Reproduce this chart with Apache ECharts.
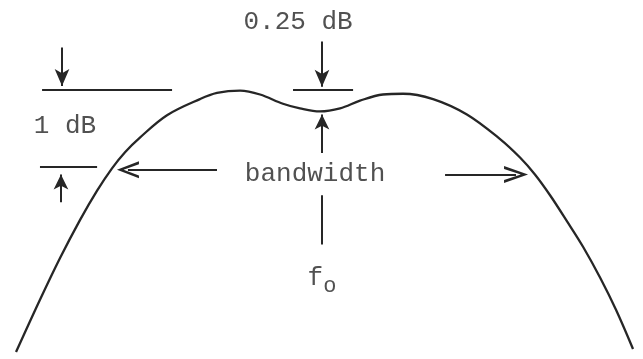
<!DOCTYPE html>
<html>
<head>
<meta charset="utf-8">
<script src="https://cdn.jsdelivr.net/npm/echarts@6/dist/echarts.min.js"></script>
<style>
  html, body { margin: 0; padding: 0; background: #fff; }
  #chart { width: 643px; height: 359px; }
</style>
</head>
<body>
<div id="chart"></div>
<script>
// relative frequency (f0 = 0, band edges near +-1)
const freq = [-1.457, -1.343, -1.248, -1.152, -1.071, -1.0, -0.938, -0.867, -0.738, -0.581,
  -0.5, -0.39, -0.295, -0.186, -0.105, -0.01, 0.086, 0.181, 0.29, 0.386,
  0.529, 0.69, 0.848, 0.943, 1.014, 1.086, 1.167, 1.243, 1.324, 1.4, 1.481];
// response in dB
const response = [-3.41, -2.73, -2.19, -1.69, -1.31, -1.02, -0.81, -0.62, -0.33, -0.12,
  -0.04, -0.01, -0.06, -0.18, -0.24, -0.28, -0.24, -0.14, -0.06, -0.05,
  -0.12, -0.32, -0.64, -0.88, -1.1, -1.37, -1.71, -2.04, -2.44, -2.86, -3.37];

// levels marked on the drawing (dB)
const peakLevel = 0;
const edgeLevel = -1;

const labels = ['0.25 dB', '1 dB', 'bandwidth', 'f{s|o}'];

const ink = '#262626';
const font = '"Liberation Mono", "DejaVu Sans Mono", monospace';
const dart = 'arrow';
const chevron = 'path://M0,20 L10,0 L20,20 L16.5,20 L10,6 L3.5,20 Z';

// one segment of the annotation, optional head at the end
function seg(a, b, head, size) {
  return [
    { coord: a, symbol: 'none' },
    { coord: b, symbol: head || 'none', symbolSize: size || 0 }
  ];
}

const chart = echarts.init(document.getElementById('chart'));

const curve = freq.map((f, i) => [f, response[i]]);

chart.setOption({
  backgroundColor: '#fff',
  animation: false,
  grid: { left: 7, width: 630, top: 13, height: 351 },
  xAxis: { type: 'value', min: -1.5, max: 1.5, show: false },
  yAxis: { type: 'value', min: -3.5, max: 1.0, show: false },
  series: [
    {
      type: 'line',
      data: curve,
      smooth: 0.35,
      symbol: 'none',
      clip: false,
      lineStyle: { color: ink, width: 2.3 },
      markLine: {
        silent: true,
        symbol: ['none', 'none'],
        label: { show: false },
        lineStyle: { color: ink, width: 2, type: 'solid' },
        data: [
          // 1 dB dimension on the left
          seg([-1.333, peakLevel], [-0.714, peakLevel]),
          seg([-1.343, edgeLevel], [-1.071, edgeLevel]),
          seg([-1.238, 0.55], [-1.238, 0.05], dart, [11, 17]),
          seg([-1.243, -1.46], [-1.243, -1.1], dart, [11, 15]),
          // 0.25 dB ripple at f0
          seg([-0.138, peakLevel], [0.148, peakLevel]),
          seg([0, 0.63], [0, 0.04], dart, [11, 17]),
          seg([0, -0.82], [0, -0.32], dart, [11, 15]),
          seg([0, -1.37], [0, -2.01]),
          // bandwidth arrows
          seg([-0.5, -1.04], [-0.924, -1.04], chevron, [17, 22]),
          seg([0.586, -1.1], [0.924, -1.1], chevron, [17, 24])
        ]
      }
    },
    {
      type: 'scatter',
      symbolSize: 0,
      silent: true,
      data: [[-0.114, 0.885], [-1.224, -0.474], [-0.033, -1.09], [0, -2.45]],
      label: {
        show: true,
        position: 'inside',
        color: ink,
        fontFamily: font,
        fontSize: 26,
        formatter: p => labels[p.dataIndex],
        rich: {
          s: { fontFamily: font, fontSize: 22, color: ink, padding: [16, 0, 0, 0] }
        }
      }
    }
  ]
});
</script>
</body>
</html>
